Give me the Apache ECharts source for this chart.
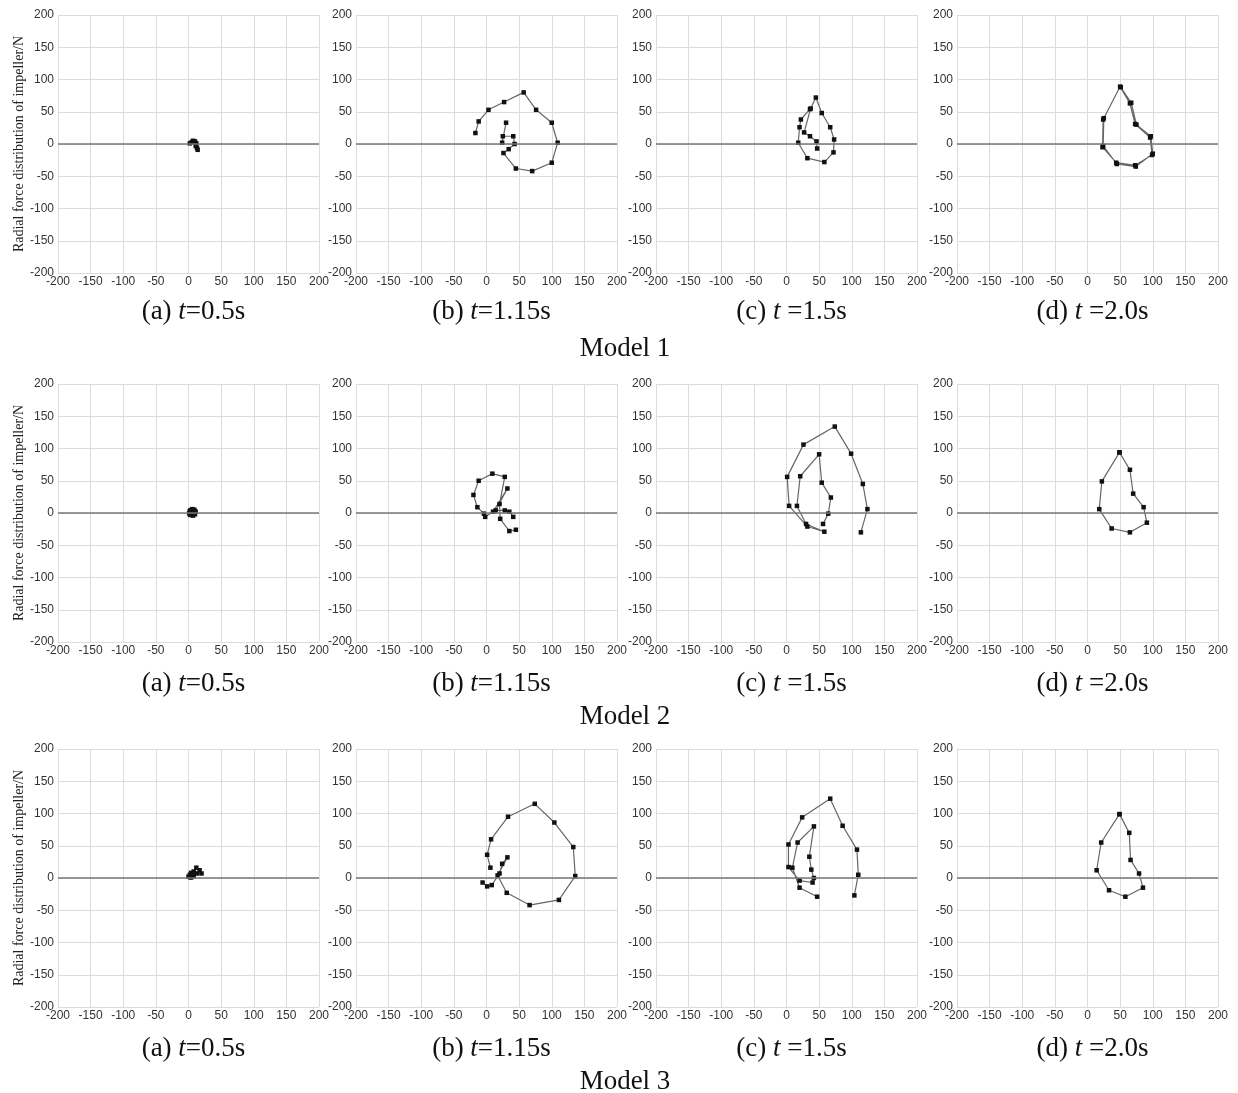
<!DOCTYPE html>
<html>
<head>
<meta charset="utf-8">
<script src="https://cdn.jsdelivr.net/npm/echarts@6/dist/echarts.min.js"></script>
<style>
  html, body { margin: 0; background: #fff; }
  #chart { width: 1238px; height: 1093px; }
</style>
</head>
<body>
<div id="chart"></div>
<script>
// labels
const modelNames = ['Model 1', 'Model 2', 'Model 3'];
const panelLabels = ['(a) {i|t}=0.5s', '(b) {i|t}=1.15s', '(c) {i|t} =1.5s', '(d) {i|t} =2.0s'];
const yAxisName = 'Radial force distribution of impeller/N';
const axisMin = -200, axisMax = 200, axisStep = 50;

// radial force points [Fx, Fy] (N)
const m1a = [[2,1],[5,3],[7,5],[10,4],[12,1],[11,-3],[13,-6],[14,-9]];
const m1b = [[-17,17],[-12,35],[3,53],[27,65],[57,80],[76,53],[100,33],[109,2],[100,-29],[70,-42],[45,-38],[26,-14],[34,-8],[43,0],[41,12],[25,12],[24,2],[30,33]];
const m1c = [[47,-7],[46,4],[36,12],[27,18],[37,55],[45,72],[54,48],[67,26],[73,7],[72,-13],[58,-28],[32,-22],[18,2],[20,26],[22,38],[36,54]];
const m1d = [[51,88],[67,64],[75,30],[97,12],[100,-15],[74,-35],[45,-31],[24,-3],[25,40],[50,89],[65,63],[73,31],[96,10],[99,-17],[73,-33],[44,-29],[23,-5],[24,38]];

const m2a = [[3,4],[6,6],[9,5],[11,2],[10,-2],[7,-4],[3,-3],[1,0],[2,3],[5,5],[8,4],[9,0],[6,-3],[2,-2]];
const m2b = [[41,-6],[35,2],[28,4],[14,4],[32,38],[10,2],[-2,-6],[-4,-1],[-14,9],[-20,28],[-12,50],[9,61],[28,56],[20,14],[21,-9],[35,-28],[45,-26]];
const m2c = [[56,-17],[64,-1],[68,24],[54,47],[50,91],[21,57],[16,11],[30,-17],[58,-29],[32,-21],[4,11],[1,56],[26,106],[74,134],[99,92],[117,45],[124,6],[114,-30]];
const m2d = [[49,94],[65,67],[70,30],[86,9],[91,-15],[65,-30],[37,-24],[18,6],[22,49],[49,94]];

const m3a = [[0,2],[2,5],[4,8],[6,4],[3,1],[8,10],[12,16],[17,12],[20,7],[13,7],[8,3],[4,1]];
const m3b = [[6,16],[1,36],[7,60],[33,95],[74,115],[104,86],[133,48],[136,3],[111,-34],[66,-42],[31,-23],[17,4],[32,32],[24,22],[20,7],[8,-11],[1,-13],[-6,-7]];
const m3c = [[47,-29],[20,-15],[9,16],[17,55],[42,80],[35,33],[38,13],[42,0],[40,-7],[20,-4],[3,17],[3,52],[24,94],[67,123],[86,81],[108,44],[110,5],[104,-27]];
const m3d = [[49,99],[64,70],[66,28],[79,7],[85,-15],[58,-29],[33,-19],[14,12],[21,55],[49,99]];

const forceData = [
  [m1a, m1b, m1c, m1d],
  [m2a, m2b, m2c, m2d],
  [m3a, m3b, m3c, m3d]
];

const colLeft = [58, 356, 656, 957];
const rowTop = [15, 384, 749];
const plotW = 261, plotH = 258;
const titleY = [293, 665, 1030];
const modelY = [330, 698, 1063];

const serif = 'Liberation Serif';
const chart = echarts.init(document.getElementById('chart'));

const grid = [], xAxis = [], yAxis = [], series = [], title = [];
forceData.forEach((row, r) => {
  row.forEach((pts, c) => {
    const idx = r * 4 + c;
    grid.push({ left: colLeft[c], top: rowTop[r], width: plotW, height: plotH });
    const common = {
      gridIndex: idx,
      type: 'value',
      min: axisMin,
      max: axisMax,
      interval: axisStep,
      axisLine: { show: false },
      axisTick: { show: false },
      splitLine: { show: true, lineStyle: { color: '#dcdcdc', width: 1 } },
      axisLabel: { fontFamily: 'Liberation Sans', fontSize: 12, color: '#333', margin: 4 }
    };
    xAxis.push(Object.assign({}, common, { axisLabel: Object.assign({}, common.axisLabel, { margin: 3 }) }));
    yAxis.push(Object.assign({}, common, c === 0 ? {
      name: yAxisName,
      nameLocation: 'middle',
      nameGap: 32,
      nameTextStyle: { fontFamily: serif, fontSize: 14, color: '#222' }
    } : {}));
    series.push({
      type: 'line',
      xAxisIndex: idx,
      yAxisIndex: idx,
      data: pts,
      symbol: 'rect',
      symbolSize: 4.5,
      showSymbol: true,
      itemStyle: { color: '#111' },
      lineStyle: { color: '#666', width: 1.2 },
      markLine: {
        silent: true,
        symbol: 'none',
        label: { show: false },
        lineStyle: { color: '#777', width: 1.5, type: 'solid' },
        data: [{ yAxis: 0 }]
      },
      z: 3
    });
    title.push({
      text: panelLabels[c],
      left: colLeft[c] + plotW / 2,
      top: titleY[r],
      textAlign: 'center',
      textStyle: {
        fontFamily: serif, fontSize: 27, fontWeight: 'normal', color: '#111',
        rich: { i: { fontFamily: serif, fontSize: 27, fontStyle: 'italic', color: '#111' } }
      }
    });
  });
  title.push({
    text: modelNames[r],
    left: 620,
    top: modelY[r],
    textAlign: 'center',
    textStyle: { fontFamily: serif, fontSize: 27, fontWeight: 'normal', color: '#111' }
  });
});

chart.setOption({
  animation: false,
  backgroundColor: '#fff',
  title,
  grid,
  xAxis,
  yAxis,
  series
});

window.addEventListener('resize', () => chart.resize());
</script>
</body>
</html>
